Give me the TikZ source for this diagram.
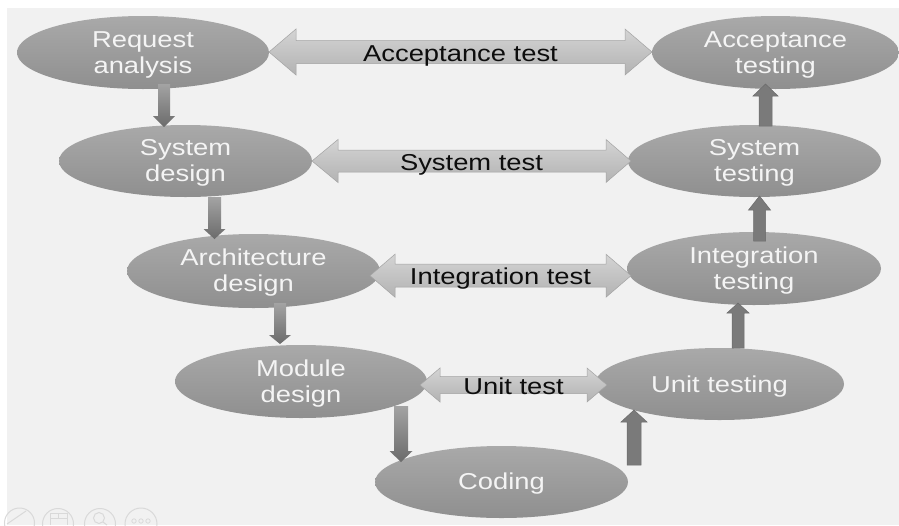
\documentclass[tikz,border=0pt]{standalone}
\usepackage{fontspec}
\setmainfont[FakeStretch=1.19]{Liberation Sans}
\usetikzlibrary{calc,shapes.geometric}
\definecolor{bgc}{HTML}{F1F1F1}
\definecolor{elltop}{HTML}{A9A9A9}
\definecolor{ellbot}{HTML}{8F8F8F}
\definecolor{ink}{HTML}{F4F4F4}
\definecolor{icon}{HTML}{D9D9D9}
\tikzset{
  stage/.style={ellipse,inner sep=0pt,outer sep=0pt,top color=elltop,bottom color=ellbot,text=ink,font=\fontsize{23}{26}\selectfont},
  downblock/.style={top color=black!36,bottom color=black!58},
  upblock/.style={fill=black!52,draw=black!58,line width=.5pt},
  testblock/.style={top color=black!17,bottom color=black!30,draw=black!36,line width=.5pt},
  testlabel/.style={anchor=base,inner sep=0pt,text=black!95,font=\fontsize{23}{26}\selectfont},
  iconline/.style={draw=icon,line width=1pt}
}
% two-line caption with exact baselines, centred on the ellipse
\newcommand\twolines[2]{\smash{\makebox[0pt][c]{\raisebox{5.4pt}{#1}}\makebox[0pt][c]{\raisebox{-20.6pt}{#2}}}}
\newcommand\oneline[2]{\smash{\makebox[0pt][c]{\raisebox{#1}{#2}}}}
% style, start, tip, signed head length, half shaft, half head
\newcommand\vblock[6]{\path[#1] let \p1=#2, \p2=#3 in
  (\x1-#5,\y1) -- (\x1-#5,\y2+#4) -- (\x1-#6,\y2+#4) -- (\x1,\y2) -- (\x1+#6,\y2+#4) -- (\x1+#5,\y2+#4) -- (\x1+#5,\y1) -- cycle;}
% left tip, right tip, half shaft, half head, left head, right head, label, name
\newcommand\hblock[8]{\path[testblock] let \p1=#1, \p2=#2 in
  (\x1,\y1) -- (\x1+#5,\y1+#4) -- (\x1+#5,\y1+#3) -- (\x2-#6,\y1+#3) -- (\x2-#6,\y1+#4) -- (\x2,\y1)
  -- (\x2-#6,\y1-#4) -- (\x2-#6,\y1-#3) -- (\x1+#5,\y1-#3) -- (\x1+#5,\y1-#4) -- cycle;
  \path let \p1=#1, \p2=#2 in node[testlabel] (#8) at ({(\x1+\x2)/2},\y1-9pt) {#7};}
\begin{document}
\begin{tikzpicture}[x=1pt,y=-1pt]
\useasboundingbox (0,0) rectangle (899,525);
\fill[white] (0,0) rectangle (899,525);
\fill[bgc] (7,8) rectangle (899,525);
% toolbar icons
\begin{scope}
\clip (0,0) rectangle (899,525);
\draw[iconline] (19.5,523) circle (15);
\draw[iconline] (7,524) -- (26,511);
\draw[iconline] (58,524) circle (15.5);
\draw[iconline] (50,525) -- (50,513) -- (67,513) -- (67,525) (50,518) -- (67,518) (58,513) -- (58,518);
\draw[iconline] (100,524) circle (15.5);
\draw[iconline] (99,518) circle (5.5);
\draw[iconline] (103,522) -- (107,525);
\draw[iconline] (141,524) circle (16);
\draw[iconline,line width=.8pt] (134,521) circle (2.2) (141,521) circle (2.2) (148,521) circle (2.2);
\end{scope}
% stages
\node[stage,minimum width=252pt,minimum height=73pt] (req) at (143,52.5) {\twolines{Request}{analysis}};
\node[stage,minimum width=253pt,minimum height=72pt] (sys) at (185.5,161) {\twolines{System}{design}};
\node[stage,minimum width=253pt,minimum height=74pt] (arch) at (253.5,271) {\twolines{Architecture}{design}};
\node[stage,minimum width=252pt,minimum height=73pt] (mod) at (301,381.5) {\twolines{Module}{design}};
\node[stage,minimum width=253pt,minimum height=72pt] (cod) at (501.5,482) {\oneline{-7pt}{Coding}};
\node[stage,minimum width=249pt,minimum height=72pt] (unit) at (719.5,384) {\oneline{-8pt}{Unit testing}};
\node[stage,minimum width=254pt,minimum height=73pt] (integ) at (754,268.5) {\twolines{Integration}{testing}};
\node[stage,minimum width=253pt,minimum height=72pt] (syst) at (754.5,161) {\twolines{System}{testing}};
\node[stage,minimum width=247pt,minimum height=73pt] (acc) at (775.5,52.5) {\twolines{Acceptance}{testing}};
% flow arrows
\vblock{downblock}{($(req.south)+(21,-5)$)}{($(sys.north)+(-21.5,2)$)}{11pt}{6pt}{11pt}
\vblock{downblock}{($(sys.south)+(29,0)$)}{($(arch.north)+(-39,5)$)}{10pt}{6.5pt}{11pt}
\vblock{downblock}{($(arch.south)+(26.5,-5)$)}{($(mod.north)+(-21,-1)$)}{9pt}{6pt}{11pt}
\vblock{downblock}{($(mod.south)+(100,-12)$)}{($(cod.north)+(-100.5,16)$)}{11pt}{7pt}{11.5pt}
\vblock{upblock}{($(cod.north)+(132.5,19)$)}{($(unit.south)+(-85.5,-10)$)}{-12pt}{7pt}{13pt}
\vblock{upblock}{($(unit.north)+(18.5,0)$)}{($(integ.south)+(-16,-2)$)}{-10pt}{6pt}{11pt}
\vblock{upblock}{($(integ.north)+(5.5,9)$)}{($(syst.south)+(5,-1)$)}{-14pt}{6pt}{11pt}
\vblock{upblock}{($(syst.north)+(11,1)$)}{($(acc.south)+(-10,-5)$)}{-12pt}{6.5pt}{12.5pt}
% test arrows
\hblock{($(req.east)+(0,-0.5)$)}{(acc.west)}{11.5pt}{23pt}{27pt}{27pt}{Acceptance test}{lacc}
\hblock{(sys.east)}{($(syst.west)+(3,0)$)}{11pt}{21.5pt}{26pt}{25pt}{System test}{lsys}
\hblock{($(arch.east)+(-10,4.7)$)}{($(integ.west)+(4,0)$)}{11.5pt}{21.5pt}{25pt}{25pt}{Integration test}{lint}
\hblock{($(mod.east)+(-7,3.5)$)}{($(unit.west)+(12,0)$)}{8.5pt}{17pt}{20pt}{20pt}{Unit test}{lunit}
\end{tikzpicture}
\end{document}
